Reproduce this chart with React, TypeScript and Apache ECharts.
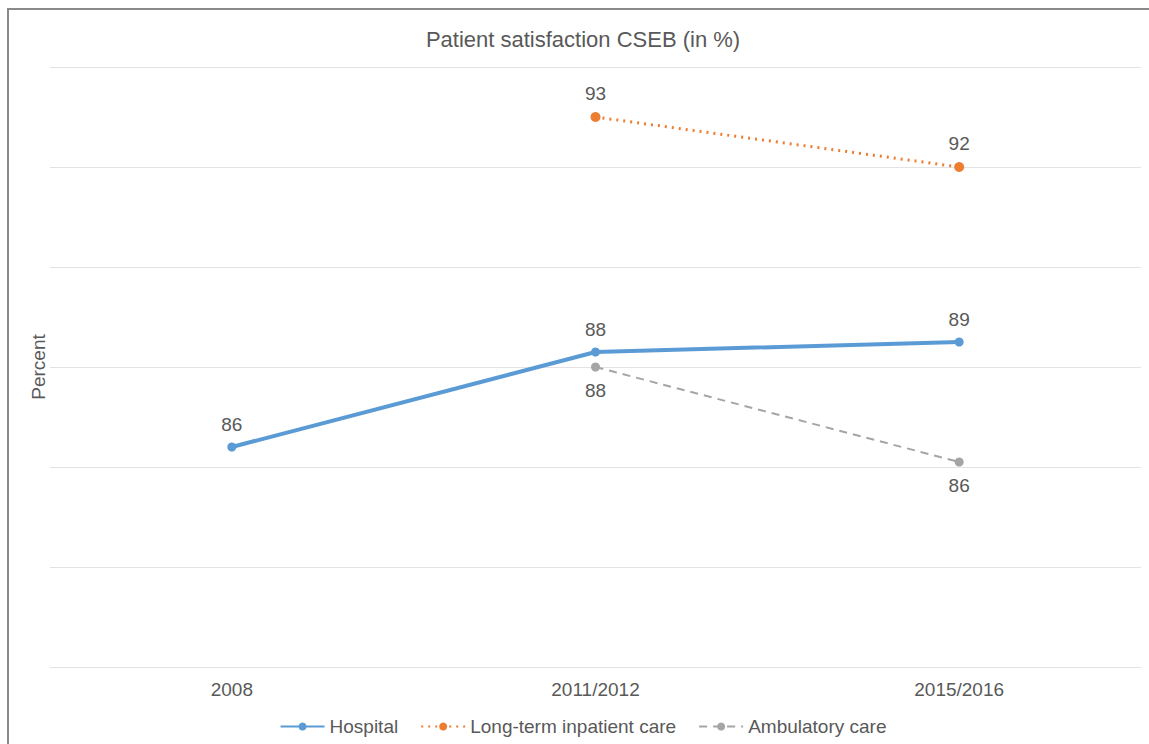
import React, { useEffect, useRef } from "react";
import * as echarts from "echarts";

const categories = ["2008", "2011/2012", "2015/2016"];
const hospital = [86.4, 88.3, 88.5];
const longTerm = [null, 93.0, 92.0];
const ambulatory = [null, 88.0, 86.1];
const yMin = 82;
const yMax = 94;
const yInterval = 2;

const TXT = "#595959";

export default function App() {
  const ref = useRef<HTMLDivElement>(null);
  useEffect(() => {
    if (!ref.current) return;
    const chart = echarts.init(ref.current, null, { renderer: "svg" });
    const labelFmt = (p: any) => String(Math.round(p.value));
    chart.setOption({
      animation: false,
      textStyle: { fontFamily: "Liberation Sans, Arial, sans-serif" },
      title: {
        text: "Patient satisfaction CSEB (in %)",
        left: "center",
        top: 13,
        textStyle: { fontSize: 22, fontWeight: "normal", color: TXT },
      },
      grid: { left: 40, right: 15, top: 57, bottom: 77, containLabel: false },
      legend: {
        bottom: 3,
        left: "center",
        itemWidth: 44,
        itemHeight: 10,
        itemGap: 22,
        textStyle: { fontSize: 19, color: TXT },
        data: ["Hospital", "Long-term inpatient care", "Ambulatory care"],
      },
      xAxis: {
        type: "category",
        data: categories,
        boundaryGap: true,
        axisLine: { lineStyle: { color: "#e3e3e3" } },
        axisTick: { show: false },
        axisLabel: { fontSize: 19, color: TXT, margin: 13 },
      },
      yAxis: {
        type: "value",
        min: yMin,
        max: yMax,
        interval: yInterval,
        name: "Percent",
        nameLocation: "middle",
        nameGap: 2,
        nameTextStyle: { fontSize: 19, color: TXT },
        axisLabel: { show: false },
        axisLine: { show: false },
        axisTick: { show: false },
        splitLine: { lineStyle: { color: "#e3e3e3", width: 1 } },
      },
      series: [
        {
          name: "Hospital",
          type: "line",
          data: hospital,
          symbol: "circle",
          symbolSize: 9,
          itemStyle: { color: "#5B9BD5" },
          lineStyle: { color: "#5B9BD5", width: 4 },
          label: { show: true, position: "top", distance: 9, fontSize: 19, color: TXT, formatter: labelFmt },
        },
        {
          name: "Long-term inpatient care",
          type: "line",
          data: longTerm,
          symbol: "circle",
          symbolSize: 10,
          itemStyle: { color: "#ED7D31" },
          lineStyle: { color: "#ED7D31", width: 3, type: [2, 5] },
          label: { show: true, position: "top", distance: 9, fontSize: 19, color: TXT, formatter: labelFmt },
        },
        {
          name: "Ambulatory care",
          type: "line",
          data: ambulatory,
          symbol: "circle",
          symbolSize: 9,
          itemStyle: { color: "#A5A5A5" },
          lineStyle: { color: "#A5A5A5", width: 2, type: [8, 6] },
          label: { show: true, position: "bottom", distance: 9, fontSize: 19, color: TXT, formatter: labelFmt },
        },
      ],
    });
    return () => chart.dispose();
  }, []);

  return (
    <div style={{ position: "fixed", left: 0, top: 0, width: 1149, height: 744, overflow: "hidden", background: "#fff" }}>
      <div
        style={{
          position: "absolute",
          left: 7,
          top: 8,
          width: 1200,
          height: 800,
          borderLeft: "2px solid #8a8a8a",
          borderTop: "2px solid #8a8a8a",
          boxSizing: "border-box",
        }}
      />
      <div ref={ref} style={{ position: "absolute", left: 10, top: 10, width: 1146, height: 734 }} />
    </div>
  );
}
